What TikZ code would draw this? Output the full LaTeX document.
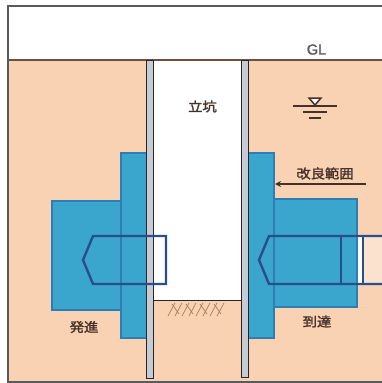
\documentclass[tikz,border=0pt]{standalone}
\usepackage{fontspec}
\usetikzlibrary{arrows.meta}
\newfontfamily\jpfont[FakeBold=1.6]{Noto Sans CJK JP}
\newfontfamily\latfont[FakeBold=1.5]{Liberation Sans}
\definecolor{soil}{HTML}{F9D2B3}
\definecolor{soillight}{HTML}{FBE2CF}
\definecolor{framegray}{HTML}{5A5A5A}
\definecolor{groundbrown}{HTML}{6E5040}
\definecolor{improved}{HTML}{3AA5CD}
\definecolor{improvededge}{HTML}{2D7FB3}
\definecolor{shieldblue}{HTML}{2A4E8A}
\definecolor{wallfill}{HTML}{C6CBD4}
\definecolor{labelbrown}{HTML}{45302A}
\tikzset{
  zone/.style={fill=improved, draw=improvededge, line width=1.3pt},
  wallbox/.style={fill=wallfill, draw=black!85, line width=1pt},
  shield/.style={draw=shieldblue, line width=2.4pt, line join=miter},
  shieldbar/.style={draw=shieldblue, line width=2.8pt},
  jplabel/.style={font=\jpfont\fontsize{13}{15}\selectfont, text=labelbrown, inner sep=0pt, xscale=1.1},
  hatchline/.style={draw=brown!60!gray, line width=0.7pt},
  waterline/.style={draw=labelbrown, line width=1.5pt}
}
\begin{document}
\begin{tikzpicture}[x=1pt,y=-1pt]
\useasboundingbox (0,0) rectangle (381,383);
\fill[white] (0,0) rectangle (381,383);

% soil below ground level
\fill[soil] (8,60) rectangle (386,382);

% outer frame and ground line
\draw[framegray, line width=1.3pt] (386,6) -- (8,6) -- (8,382) -- (386,382);
\draw[groundbrown, line width=1.3pt] (8,60) -- (386,60);
\node[font=\latfont\fontsize{14.5}{16}\selectfont, text=black!65, inner sep=0pt] (gl) at (316.5,49.5) {GL};

% tunnel interior behind the arrival zone
\fill[white] (341,236) rectangle (363,284);
\fill[soillight] (363,236) rectangle (386,284);

% ground improvement zones, departure side
\draw[zone] (52,201) rectangle (121,310);
\draw[zone] (121,153) rectangle (148,338);
% ground improvement zones, arrival side
\draw[zone] (272,199) rectangle (357,307);
\draw[zone] (246,153) rectangle (274,338);

% shaft interior and walls
\fill[white] (153,61) rectangle (241,300.5);
\draw[black!85, line width=1pt] (153,300.5) -- (241,300.5);
\foreach \x in {168,175,...,221} {
  \draw[hatchline] (\x,316) -- (\x+7,303);
}
\foreach \x in {172,186,200,214} {
  \draw[hatchline] (\x,304) -- (\x+7,314);
}
\draw[wallbox] (146,60) rectangle (153,378);
\draw[wallbox] (241,60) rectangle (248,377);

% departure shield
\draw[shield] (93,236) -- (166,236) -- (166,284) -- (93,284) -- (83,260) -- cycle;
% arrival shield and following segments
\draw[shield] (388,236) -- (269,236) -- (259,260) -- (269,284) -- (388,284);
\draw[shieldbar] (341,235) -- (341,285);
\draw[shieldbar] (363,235) -- (363,285);

% water table symbol
\draw[waterline, fill=white] (309,98) -- (321,98) -- (315,105) -- cycle;
\draw[waterline] (293,106) -- (337,106);
\draw[waterline] (303,112) -- (327,112);
\draw[waterline] (309,118) -- (321,118);

% labels
\node[jplabel] (shaft) at (202.5,106.5) {立坑};
\node[jplabel] (depart) at (84,327) {発進};
\node[jplabel] (arrive) at (317,321.5) {到達};
\node[jplabel] (range) at (325,173.5) {改良範囲};
\coordinate (rangetail) at (366,184);
\coordinate (rangetip) at (275,184);
\draw[labelbrown, line width=1.8pt, -{Stealth[length=6pt,width=6pt]}] (rangetail) -- (rangetip);
\end{tikzpicture}
\end{document}
